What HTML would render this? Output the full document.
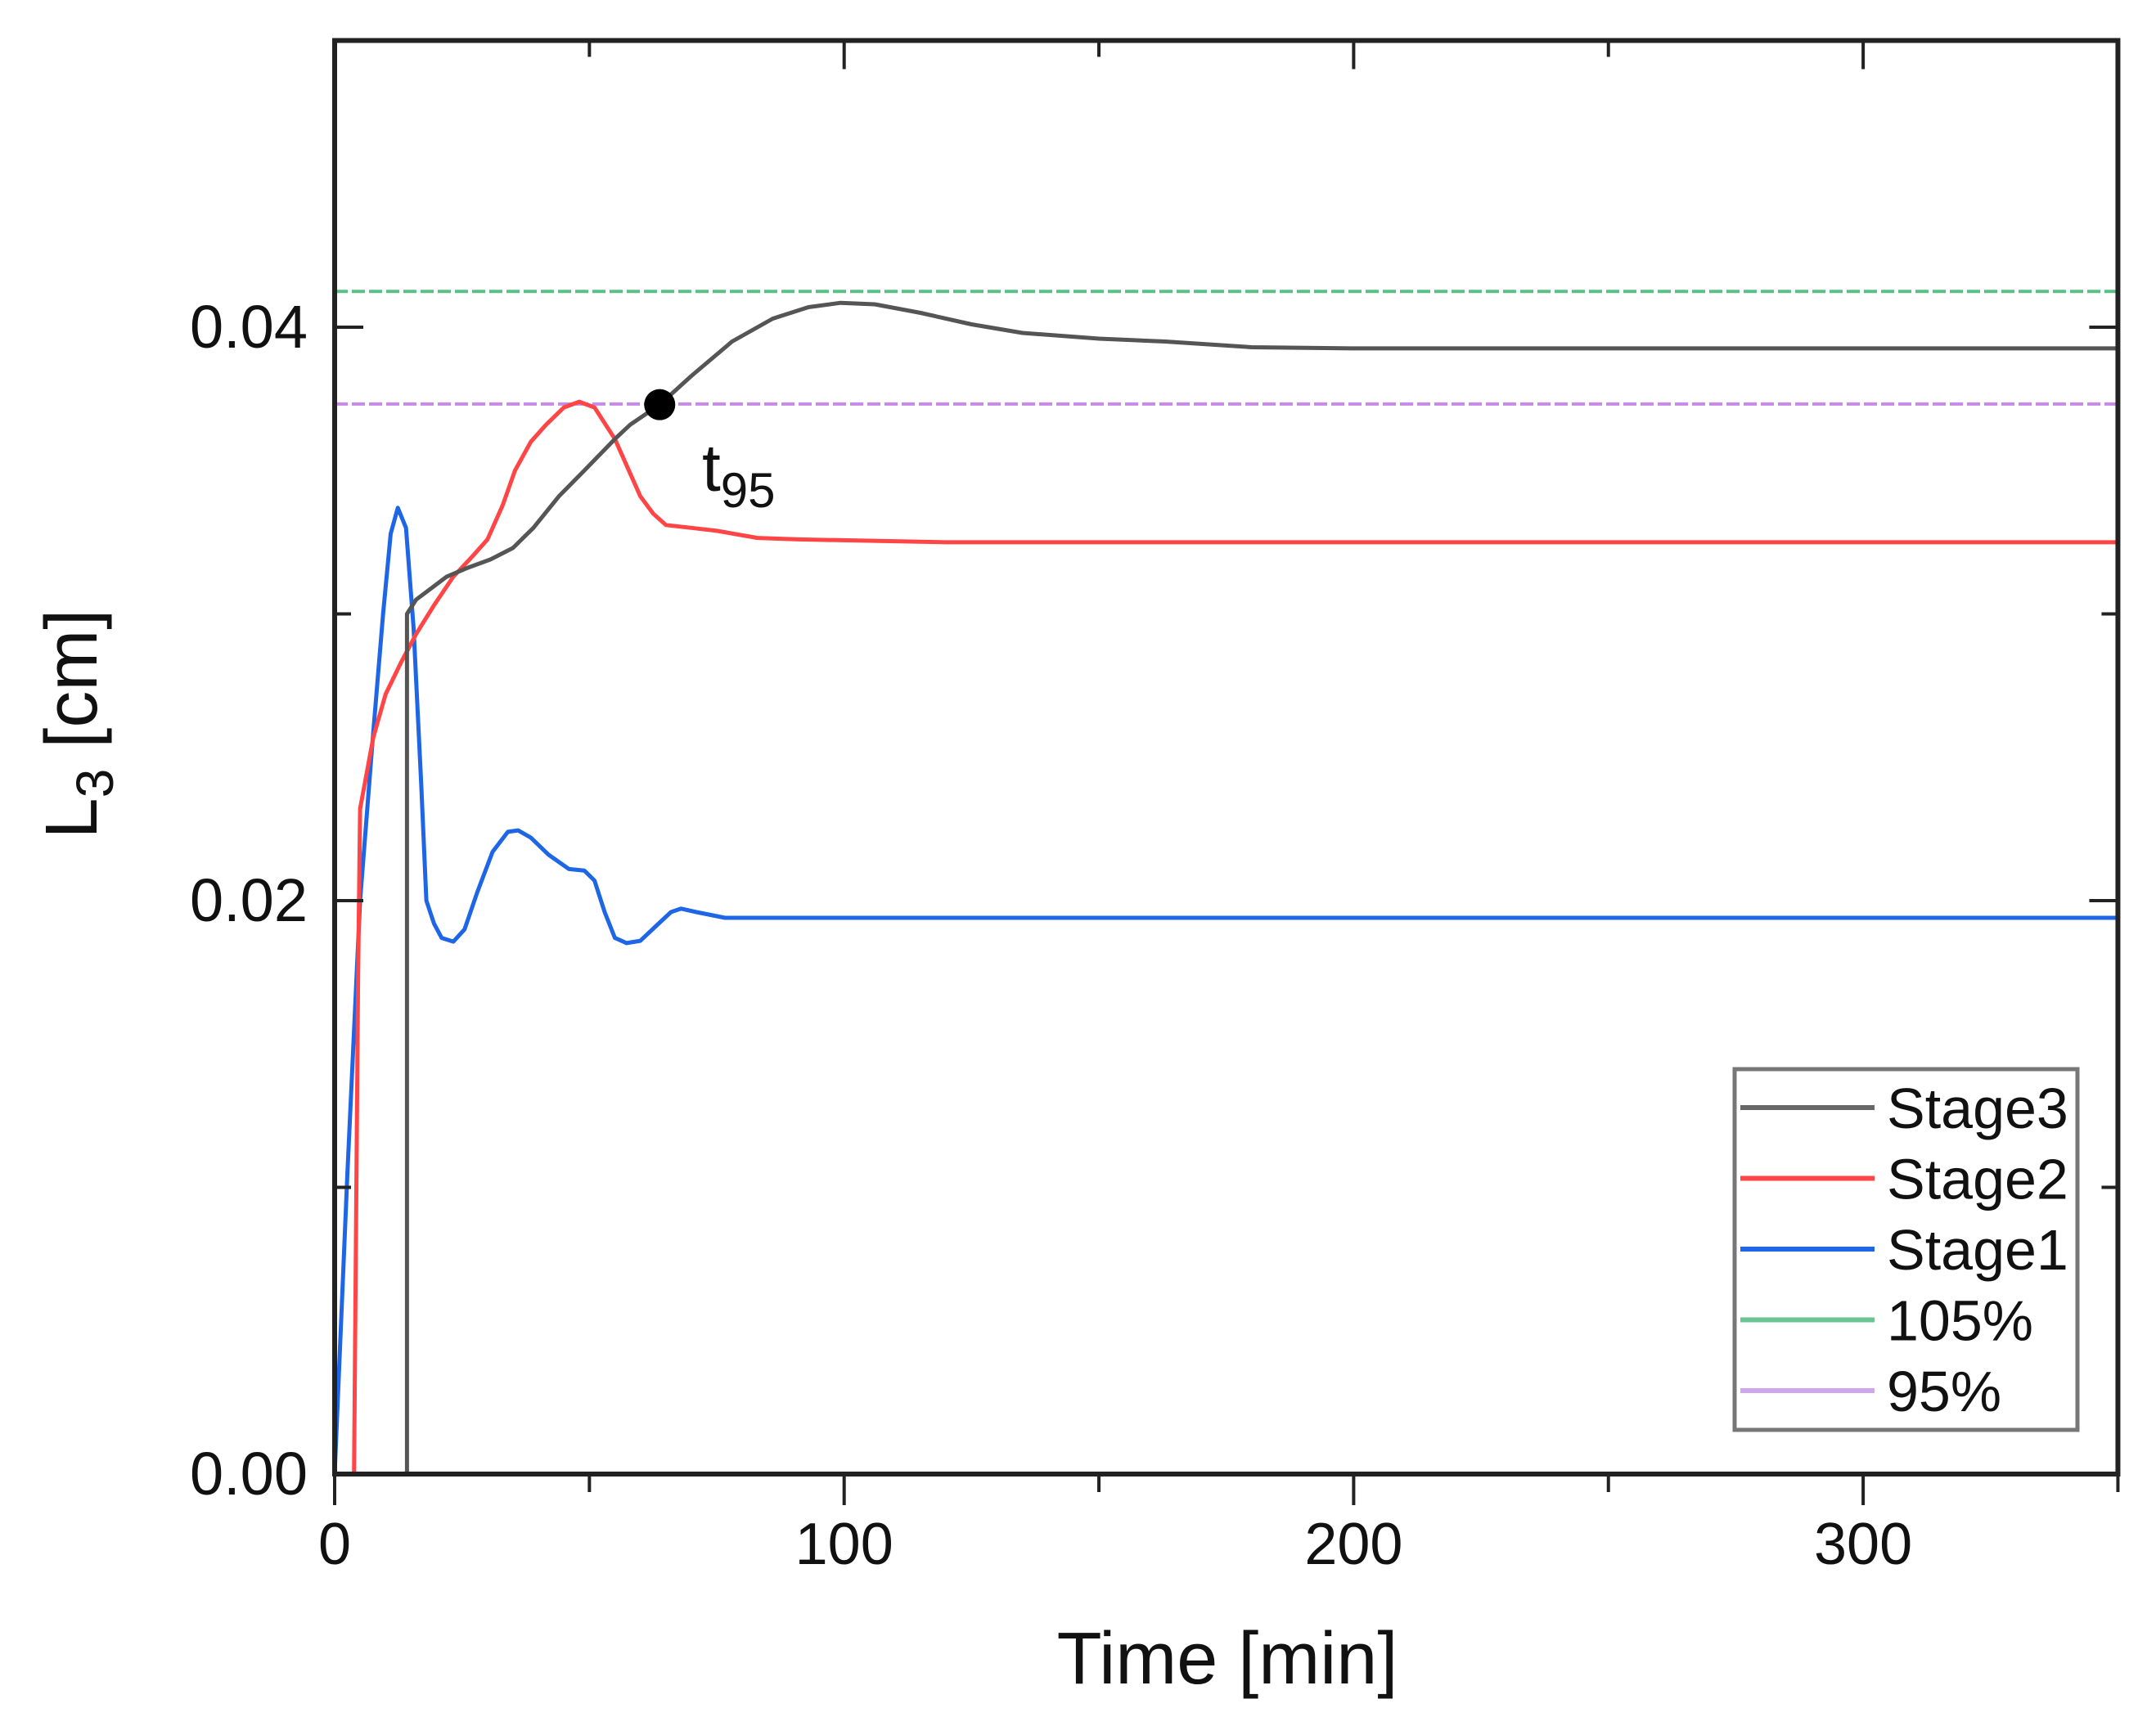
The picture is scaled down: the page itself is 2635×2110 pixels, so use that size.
<!DOCTYPE html>
<html><head><meta charset="utf-8"><style>
html,body{margin:0;padding:0;background:#fff;}
svg{display:block;}
text{font-family:"Liberation Sans",Arial,sans-serif;fill:#111;}
</style></head><body>
<svg id="chart" width="2635" height="2110" viewBox="0 0 2635 2110">
<g id="plot"></g>
</svg>
<script>
const xTicks=[0,100,200,300];
const xMinor=[50,150,250,350];
const yTicks=[0,0.02,0.04];
const yTickLabels=["0.00","0.02","0.04"];
const yMinor=[0.01,0.03,0.05];
const stage3T=[0,14.2,14.2,16,19,22,26,30.6,35,39,44,49,55,58,63.8,70,78,86,93,99.3,106,115,125,135,150,163,180,200,250,300,350];
const stage3Y=[0,0,0.0300,0.0305,0.0309,0.0313,0.0316,0.0319,0.0323,0.0330,0.0341,0.0350,0.0361,0.0366,0.0373,0.0383,0.0395,0.0403,0.0407,0.04085,0.0408,0.0405,0.0401,0.0398,0.0396,0.0395,0.0393,0.03926,0.03926,0.03926,0.03926];
const stage2T=[0,3.8,4.6,5,7.6,10,13,16,19.5,23.3,27,30,33,35.4,38.5,41.5,45,48,51,55,58,60,62.5,65,70,75,83,91,120,200,350];
const stage2Y=[0,0,0.0172,0.0232,0.0257,0.0272,0.0283,0.0293,0.0303,0.0313,0.0320,0.0326,0.0338,0.0350,0.0360,0.0366,0.0372,0.0374,0.0372,0.0361,0.0349,0.0341,0.0335,0.0331,0.0330,0.0329,0.03265,0.0326,0.0325,0.0325,0.0325];
const stage1T=[0,2.5,5,7.5,9.5,11,12.4,14,15.5,17,18,19.5,21,23.3,25.5,28,31,34,36,38.5,42,46,49,51,53,55,57.3,60,63,66,68,71,76.6,85,120,200,350];
const stage1Y=[0,0.0105,0.0200,0.0257,0.0300,0.0328,0.0337,0.0330,0.0295,0.0240,0.0200,0.0192,0.0187,0.01857,0.0190,0.0203,0.0217,0.0224,0.02245,0.0222,0.0216,0.0211,0.02105,0.0207,0.0196,0.0187,0.01852,0.0186,0.0191,0.0196,0.01972,0.0196,0.0194,0.0194,0.0194,0.0194,0.0194];
const level105=[0.04125];
const level95=[0.03732];
const t95Point=[63.8,0.0373];
const X0=409,XW=6.227,Y0=1802,YH=35050;
function sx(t){return X0+t*XW;}
function sy(v){return Y0-v*YH;}
const NS='http://www.w3.org/2000/svg';
const g=document.getElementById('plot');
function mk(tag,attrs,parent){const e=document.createElementNS(NS,tag);for(const k in attrs)e.setAttribute(k,attrs[k]);(parent||g).appendChild(e);return e;}
const xEnd=sx(350),yTop=sy(0.05);
let e;
e=mk('line',{x1:sx(0),x2:xEnd,y1:sy(level105[0]),y2:sy(level105[0]),stroke:'#5cbf85','stroke-width':4,'stroke-dasharray':'16 5'});


e=mk('line',{x1:sx(0),x2:xEnd,y1:sy(level95[0]),y2:sy(level95[0]),stroke:'#c78ae6','stroke-width':4,'stroke-dasharray':'16 5'});


function series(T,Y,color,name,w){
  let d='';for(let i=0;i<T.length;i++){d+=(i?'L':'M')+sx(T[i]).toFixed(1)+' '+sy(Y[i]).toFixed(1);}
  const p=mk('path',{d:d,fill:'none',stroke:color,'stroke-width':w,'stroke-linejoin':'round'});
  
  
}
series(stage1T,stage1Y,'#1e66e6','series-stage1',5);
series(stage2T,stage2Y,'#ff4545','series-stage2',5);
series(stage3T,stage3Y,'#555','series-stage3',5);
e=mk('circle',{cx:sx(t95Point[0]),cy:sy(t95Point[1]),r:19,fill:'#000'});


e=mk('text',{x:858,y:600,'font-size':82});
e.textContent='t';


const sub=mk('tspan',{dy:20,'font-size':60},e);sub.textContent='95';
e=mk('rect',{x:sx(0),y:yTop,width:xEnd-sx(0),height:Y0-yTop,fill:'none',stroke:'#222','stroke-width':6});


xTicks.forEach(t=>{
  mk('line',{x1:sx(t),x2:sx(t),y1:Y0,y2:Y0+38,stroke:'#222','stroke-width':4});
  mk('line',{x1:sx(t),x2:sx(t),y1:yTop,y2:yTop+35,stroke:'#222','stroke-width':4});
  const l=mk('text',{x:sx(t),y:1912,'font-size':72,'text-anchor':'middle'});
  l.textContent=String(t);
  
  
});
xMinor.forEach(t=>{
  mk('line',{x1:sx(t),x2:sx(t),y1:Y0,y2:Y0+22,stroke:'#222','stroke-width':4});
  mk('line',{x1:sx(t),x2:sx(t),y1:yTop,y2:yTop+20,stroke:'#222','stroke-width':4});
});
yTicks.forEach((v,i)=>{
  mk('line',{x1:X0,x2:X0+35,y1:sy(v),y2:sy(v),stroke:'#222','stroke-width':4});
  mk('line',{x1:xEnd,x2:xEnd-35,y1:sy(v),y2:sy(v),stroke:'#222','stroke-width':4});
  const l=mk('text',{x:376,y:sy(v)+25,'font-size':74,'text-anchor':'end'});
  l.textContent=yTickLabels[i];
  
  
});
yMinor.forEach(v=>{
  mk('line',{x1:X0,x2:X0+20,y1:sy(v),y2:sy(v),stroke:'#222','stroke-width':4});
  mk('line',{x1:xEnd,x2:xEnd-20,y1:sy(v),y2:sy(v),stroke:'#222','stroke-width':4});
});
e=mk('text',{x:1500,y:2058,'font-size':90,'text-anchor':'middle'});
e.textContent='Time [min]';


e=mk('text',{x:0,y:0,'font-size':90,'text-anchor':'middle',transform:'translate(118,885) rotate(-90)'});


e.appendChild(document.createTextNode('L'));
const s2=mk('tspan',{dy:20,'font-size':64},e);s2.textContent='3';
const s3=mk('tspan',{dy:-20},e);s3.textContent=' [cm]';
const lg=mk('g',{});


mk('rect',{x:2120,y:1307,width:419,height:441,fill:'#fff',stroke:'#777','stroke-width':5},lg);
const legNames=['Stage3','Stage2','Stage1','105%','95%'];
const legColors=['#666','#ff4545','#1e66e6','#6cc493','#d0a6ec'];
legNames.forEach((n,i)=>{
  const y=1354+i*86.5;
  const it=mk('g',{},lg);
  
  
  mk('line',{x1:2127,x2:2291,y1:y,y2:y,stroke:legColors[i],'stroke-width':6},it);
  const t=mk('text',{x:2306,y:y+25,'font-size':70},it);t.textContent=n;
});
</script>
</body></html>
